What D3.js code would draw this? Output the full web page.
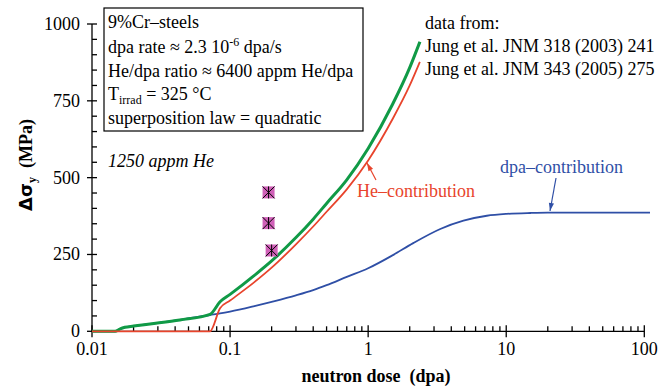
<!DOCTYPE html>
<html><head><meta charset="utf-8">
<script src="https://cdn.jsdelivr.net/npm/d3@7"></script>
<style>body{margin:0;background:#fff}svg{display:block}</style>
</head><body>
<svg id="c" width="671" height="389"></svg>
<script>
// ---- data ----
const dpaDose = [0.01,0.0147,0.016,0.0173,0.02,0.0263,0.0433,0.0715,0.0846,0.1,0.15,0.2,0.3,0.4,0.5,0.7,1,1.5,2.12,3.33,4.9,7.24,10,15,20,50,110];
const dpaVal  = [0,0,8,13,17,24,37,53,58,64,82,96,117,134,150,177,205,247,287,333,360,376,382,385,386,386,386];
const heDose = [0.01,0.0715,0.0846,0.1,0.15,0.2,0.3,0.4,0.5,0.7,1,1.5,2,2.37];
const heVal  = [0,0,75,100,160,207,283,341,389,462,556,690,800,877];
const totDose = [0.01,0.0147,0.016,0.0173,0.02,0.0263,0.0433,0.0715,0.0846,0.1,0.15,0.2,0.3,0.4,0.5,0.7,1,1.5,2,2.37];
const totVal  = [0,0,8,13,17,24,37,55,96,120,182,229,305,365,416,493,595,738,858,942];
const expDose = [0.19,0.19,0.2];
const expVal  = [452,352,263];
const xTicks = [0.01,0.1,1,10,100];
const xTickLabels = ["0.01","0.1","1","10","100"];
const yTicks = [0,250,500,750,1000];

const svg = d3.select("#c");
const x = d3.scaleLog().domain([0.01,100]).range([92,644.3]);
const y = d3.scaleLinear().domain([0,1000]).range([331.3,24]);

const blue="#2f4fa6", red="#e8442c", green="#109a46";
const serif="Liberation Serif, Times New Roman, Tinos, Nimbus Roman, Times, DejaVu Serif, Noto Serif, serif";

// axes
const ax = svg.append("g").attr("stroke","#000").attr("stroke-width",1.3);
ax.append("line").attr("x1",x(0.01)).attr("x2",x(0.01)).attr("y1",y(0)).attr("y2",y(1000));
ax.append("line").attr("x1",x(0.01)).attr("x2",x(100)).attr("y1",y(0)).attr("y2",y(0));
d3.range(0,1001,50).forEach(v=>{
  const major = v%250===0;
  ax.append("line").attr("x1",x(0.01)-(major?5:0)).attr("x2",x(0.01)+5).attr("y1",y(v)).attr("y2",y(v));
});
[0.01,0.1,1,10].forEach(d=>{
  for(let k=2;k<=9;k++){
    ax.append("line").attr("x1",x(d*k)).attr("x2",x(d*k)).attr("y1",y(0)).attr("y2",y(0)-5);
  }
});
xTicks.forEach(d=>{
  ax.append("line").attr("x1",x(d)).attr("x2",x(d)).attr("y1",y(0)-6).attr("y2",y(0)+6);
});
function T(){ return svg.append("text").style("font-family",serif); }
yTicks.forEach(v=>{
  T().attr("x",80).attr("y",y(v)+6).attr("text-anchor","end").attr("font-size",18).text(v);
});
xTicks.forEach((d,i)=>{
  T().attr("x",x(d)).attr("y",355).attr("text-anchor","middle").attr("font-size",18).text(xTickLabels[i]);
});
T().attr("x",376).attr("y",382).attr("text-anchor","middle").attr("font-size",18)
  .attr("font-weight","bold").attr("xml:space","preserve").text("neutron dose  (dpa)");
const yl = T().attr("transform","translate(32,165) rotate(-90)").attr("text-anchor","middle")
  .attr("font-size",18).attr("font-weight","bold").attr("xml:space","preserve");
yl.append("tspan").style("font-family","DejaVu Sans").text("Δσ");
yl.append("tspan").attr("font-size",12).attr("dy",4).text("y");
yl.append("tspan").attr("dy",-4).text("  (MPa)");

// curves
const line = d3.line().x(d=>x(d[0])).y(d=>y(d[1])).curve(d3.curveMonotoneX);
svg.append("path").datum(d3.zip(dpaDose,dpaVal)).attr("d",line).attr("fill","none").attr("stroke",blue).attr("stroke-width",1.8);
svg.append("path").datum(d3.zip(totDose,totVal)).attr("d",line).attr("fill","none").attr("stroke",green).attr("stroke-width",3);
svg.append("path").datum(d3.zip(heDose,heVal)).attr("d",line).attr("fill","none").attr("stroke",red).attr("stroke-width",1.8);

// markers
expDose.forEach((d,i)=>{
  const cx=x(d), cy=y(expVal[i]), h=6;
  const g=svg.append("g");
  g.append("rect").attr("x",cx-h).attr("y",cy-h).attr("width",2*h).attr("height",2*h).attr("fill","#d060b8");
  g.append("path").attr("d",`M${cx-h},${cy-h}L${cx+h},${cy+h}M${cx+h},${cy-h}L${cx-h},${cy+h}M${cx},${cy-h}L${cx},${cy+h}`)
    .attr("stroke","#000").attr("stroke-width",1);
});

// info box
svg.append("rect").attr("x",104).attr("y",8).attr("width",259).attr("height",123).attr("fill","none").attr("stroke","#000").attr("stroke-width",1.2);
const fs=18, bx=108;
T().attr("x",bx).attr("y",28).attr("font-size",fs).text("9%Cr–steels");
const t2=T().attr("x",bx).attr("y",53).attr("font-size",fs);
t2.append("tspan").text("dpa rate ≈ 2.3 10");
t2.append("tspan").attr("font-size",12).attr("dy",-7).text("-6");
t2.append("tspan").attr("dy",7).text(" dpa/s");
T().attr("x",bx).attr("y",77).attr("font-size",fs).text("He/dpa ratio ≈ 6400 appm He/dpa");
const t4=T().attr("x",bx).attr("y",100).attr("font-size",fs);
t4.append("tspan").text("T");
t4.append("tspan").attr("font-size",12).attr("dy",4).text("irrad");
t4.append("tspan").attr("dy",-4).text(" = 325 °C");
T().attr("x",bx).attr("y",124).attr("font-size",fs).text("superposition law = quadratic");
T().attr("x",108).attr("y",167).attr("font-size",fs).attr("font-style","italic").text("1250 appm He");

T().attr("x",425).attr("y",29).attr("font-size",fs).text("data from:");
T().attr("x",425).attr("y",52).attr("font-size",fs).text("Jung et al. JNM 318 (2003) 241");
T().attr("x",425).attr("y",75).attr("font-size",fs).text("Jung et al. JNM 343 (2005) 275");

// annotations
T().attr("x",357).attr("y",197).attr("font-size",fs).attr("fill",red).text("He–contribution");
T().attr("x",500).attr("y",173).attr("font-size",fs).attr("fill",blue).text("dpa–contribution");
function arrow(x1,y1,x2,y2,col){
  svg.append("line").attr("x1",x1).attr("y1",y1).attr("x2",x2).attr("y2",y2).attr("stroke",col).attr("stroke-width",1.2);
  const a=Math.atan2(y2-y1,x2-x1), L=8, w=2.6;
  const bx_=x2-L*Math.cos(a), by_=y2-L*Math.sin(a);
  svg.append("path").attr("d",`M${x2},${y2}L${bx_-w*Math.sin(a)},${by_+w*Math.cos(a)}L${bx_+w*Math.sin(a)},${by_-w*Math.cos(a)}Z`).attr("fill",col);
}
arrow(376,180,367,163,red);
arrow(556,178,550,211,blue);
</script>
</body></html>
